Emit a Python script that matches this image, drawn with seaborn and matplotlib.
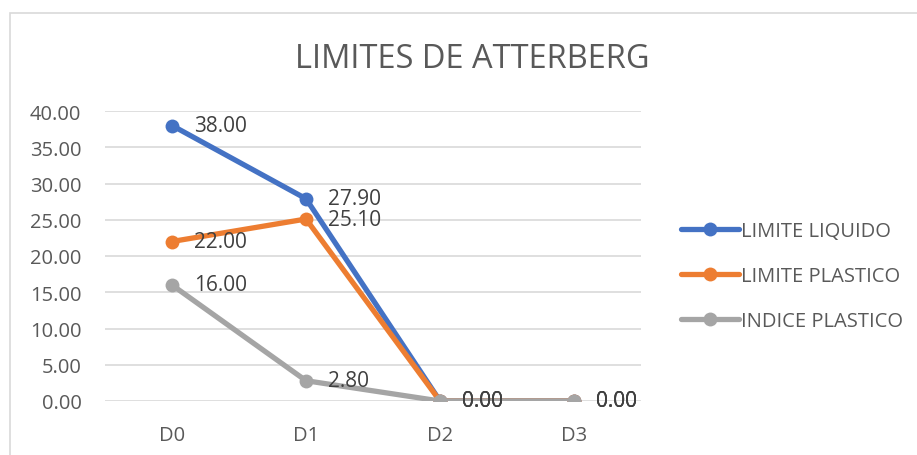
import matplotlib
matplotlib.use("Agg")
import matplotlib.pyplot as plt
import seaborn as sns
import pandas as pd
from matplotlib.patches import Rectangle

categories = ["D0", "D1", "D2", "D3"]
limite_liquido = [38.0, 27.9, 0.0, 0.0]
limite_plastico = [22.0, 25.1, 0.0, 0.0]
indice_plastico = [16.0, 2.8, 0.0, 0.0]
series_names = ["LIMITE LIQUIDO", "LIMITE PLASTICO", "INDICE PLASTICO"]
y_ticks = [0, 5, 10, 15, 20, 25, 30, 35, 40]

colors = ["#4472C4", "#ED7D31", "#A5A5A5"]

sns.set_theme(style="white")
plt.rcParams["font.family"] = ["Open Sans", "DejaVu Sans"]

df = pd.DataFrame({
    "cat": categories * 3,
    "x": list(range(len(categories))) * 3,
    "value": limite_liquido + limite_plastico + indice_plastico,
    "serie": [n for n in series_names for _ in categories],
})

fig = plt.figure(figsize=(9.17, 4.56), dpi=100)
ax = fig.add_axes([105 / 917, 1 - 402 / 456, 536 / 917, 290 / 456])

sns.lineplot(
    data=df, x="x", y="value", hue="serie", hue_order=series_names,
    palette=colors, marker="o", markersize=10, markeredgewidth=0,
    linewidth=3.8, ax=ax, legend=True, sort=False,
)

# value labels beside each point
for name, color in zip(series_names, colors):
    sub = df[df["serie"] == name]
    for xv, yv in zip(sub["x"], sub["value"]):
        ax.annotate(f"{yv:.2f}", (xv, yv), xytext=(16, 0), textcoords="offset points",
                    ha="left", va="center", fontsize=15, color="#404040")

ax.set_xlim(-0.5, len(categories) - 0.5)
ax.set_ylim(0, 40)
ax.set_yticks(y_ticks)
ax.set_yticklabels([f"{t:.2f}" for t in y_ticks])
ax.set_xticks(range(len(categories)))
ax.set_xticklabels(categories)
ax.set_xlabel("")
ax.set_ylabel("")
ax.grid(axis="y", color="#D9D9D9", linewidth=1.2)
ax.set_axisbelow(True)
for s in ax.spines.values():
    s.set_visible(False)
ax.tick_params(axis="y", length=0, pad=17, labelsize=14.5, labelcolor="#595959")
ax.tick_params(axis="x", length=0, pad=17, labelsize=14.5, labelcolor="#595959")

leg = ax.legend(loc="center left", bbox_to_anchor=(1.04, 0.43), frameon=False,
                fontsize=14.5, labelcolor="#595959", handlelength=2.9,
                handletextpad=0.1, labelspacing=1.25)
for h in leg.get_lines():
    h.set_linewidth(3.8)
    h.set_markersize(10)

fig.text(472 / 917, 1 - 60 / 456, "LIMITES DE ATTERBERG", ha="center", va="center",
         fontsize=23.5, color="#595959")

# chart area border
fig.patches.append(Rectangle((10 / 917, -0.1), 1.2, 1 - 14 / 456 + 0.1,
                             transform=fig.transFigure, fill=False,
                             edgecolor="#D9D9D9", linewidth=1.2))

fig.savefig("out.png", dpi=100)
